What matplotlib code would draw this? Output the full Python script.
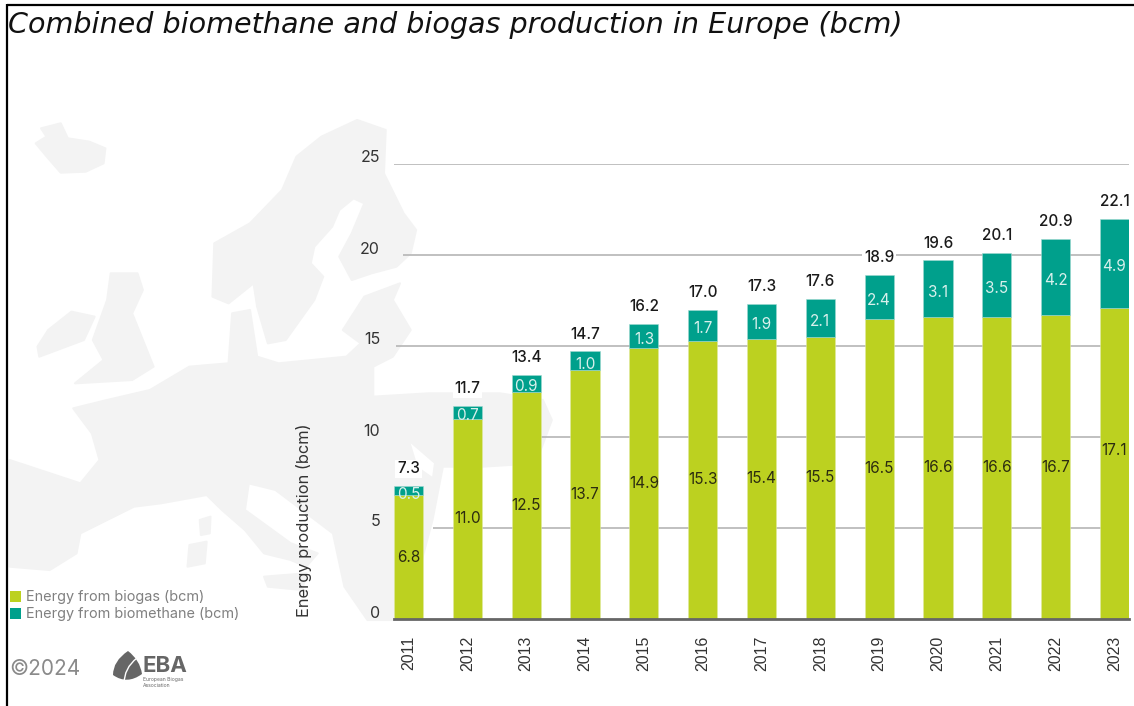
import matplotlib
matplotlib.use("Agg")
import matplotlib.pyplot as plt
from matplotlib.patches import Polygon, Rectangle, PathPatch
from matplotlib.path import Path
from matplotlib.transforms import blended_transform_factory, ScaledTranslation

years = list(range(2011, 2024))
biogas = [6.8, 11.0, 12.5, 13.7, 14.9, 15.3, 15.4, 15.5, 16.5, 16.6, 16.6, 16.7, 17.1]
biomethane = [0.5, 0.7, 0.9, 1.0, 1.3, 1.7, 1.9, 2.1, 2.4, 3.1, 3.5, 4.2, 4.9]
totals = [7.3, 11.7, 13.4, 14.7, 16.2, 17.0, 17.3, 17.6, 18.9, 19.6, 20.1, 20.9, 22.1]
y_ticks = [0, 5, 10, 15, 20, 25]
grid_levels = [5, 10, 15, 20, 25]
grid_start_px = [433, 541, 396, 403, 394]

GREEN = "#BCD120"
TEAL = "#00A08C"
MAP = "#F3F3F3"
W, H = 1134, 706
SANS = "Inter"

fig = plt.figure(figsize=(W / 100, H / 100), dpi=100, facecolor="white")
bg = fig.add_axes([0, 0, 1, 1])
bg.set_xlim(0, W)
bg.set_ylim(H, 0)
bg.axis("off")


def z2(pts):
    return [(x / 2.8, 100 + y / 3) for x, y in pts]


def z4(pts):
    return [(x / 2.613, 420 + y / 3) for x, y in pts]


iceland = z2([(100, 130), (130, 110), (115, 85), (170, 70), (190, 115), (250, 125), (295, 145),
              (290, 190), (240, 215), (170, 218), (135, 175)])
nordic = z2([(600, 430), (700, 370), (790, 270), (830, 170), (900, 110), (1000, 60), (1080, 90), (1075, 220),
             (1130, 340), (1165, 390), (1150, 460), (1110, 500), (1040, 520), (985, 540), (950, 470), (985, 400),
             (1020, 310), (990, 295), (950, 330), (930, 380), (880, 440), (870, 490), (905, 530), (880, 600),
             (800, 720), (750, 730), (720, 620), (710, 550), (640, 610), (595, 590)])
continent = z2([(205, 925), (300, 900), (420, 870), (530, 800), (640, 790), (650, 640), (700, 630), (720, 770),
                (780, 790), (970, 770), (1010, 730), (960, 690), (1020, 590), (1120, 550), (1100, 600),
                (1150, 690), (1100, 770), (1045, 800), (1045, 890), (1200, 880), (1400, 880), (1520, 900),
                (1545, 960), (1500, 1090), (1350, 1100), (1240, 1100)]) + z4([
                (1130, 300), (1100, 430), (1030, 600), (960, 600), (900, 500), (870, 340), (720, 210), (650, 190),
                (640, 270), (760, 370), (830, 400), (800, 440), (760, 420), (690, 400), (640, 330), (580, 270),
                (540, 225), (420, 250), (350, 260), (210, 340), (200, 400), (130, 450), (25, 440), (25, 120),
                (210, 190), (260, 120), (240, 40)])
britain = z2([(310, 520), (385, 520), (400, 570), (370, 640), (400, 720), (430, 800), (370, 840), (210, 850),
              (290, 780), (260, 720), (300, 600)])
ireland = z2([(135, 690), (200, 635), (265, 650), (235, 720), (110, 770), (105, 740)])
corsica = z4([(522, 300), (550, 290), (548, 340), (525, 345)])
sardinia = z4([(495, 375), (540, 365), (535, 430), (490, 440)])
sicily = z4([(690, 470), (800, 460), (790, 510), (700, 500)])
for shape in (iceland, nordic, continent, britain, ireland, corsica, sardinia, sicily):
    bg.add_patch(Polygon(shape, closed=True, fc=MAP, ec=MAP, lw=1.5, joinstyle="round", zorder=1))
bg.add_patch(Polygon(z2([(1150, 1030), (1215, 1090), (1210, 1130), (1170, 1100)]), closed=True, fc="white", ec="none", zorder=1.5))

# frame lines
bg.plot([7, 7], [4, H], color="black", lw=1.6, zorder=3, solid_capstyle="butt")
bg.plot([7, W], [5, 5], color="black", lw=1.6, zorder=3, solid_capstyle="butt")

# title
bg.text(8, 33, "Combined biomethane and biogas production in Europe (bcm)", family="DejaVu Sans", style="oblique",
        fontsize=20.65, color="#111111", ha="left", va="baseline", zorder=4)

# legend
bg.add_patch(Rectangle((10, 591), 11, 11, fc=GREEN, ec="none", zorder=4))
bg.add_patch(Rectangle((10, 608), 11, 11, fc=TEAL, ec="none", zorder=4))
bg.text(26, 597, "Energy from biogas (bcm)", family=SANS, fontsize=10.4, color="#808080", va="center", zorder=4)
bg.text(26, 614, "Energy from biomethane (bcm)", family=SANS, fontsize=10.4, color="#808080", va="center", zorder=4)

# footer
bg.text(9, 669, "©2024", family=SANS, fontsize=15, color="#8a8a8a", va="center", zorder=4)
leaf = Path([(128, 651), (140, 660), (142, 674), (127, 685), (113, 675), (113, 661), (128, 651)],
            [Path.MOVETO, Path.CURVE3, Path.CURVE3, Path.CURVE3, Path.CURVE3, Path.CURVE3, Path.CURVE3])
bg.add_patch(PathPatch(leaf, fc="#666666", ec="none", zorder=4))
vein = Path([(137, 658), (124, 668), (124, 684)], [Path.MOVETO, Path.CURVE3, Path.CURVE3])
bg.add_patch(PathPatch(vein, fc="none", ec="white", lw=1, zorder=5))
bg.text(143, 672, "EBA", family=SANS, weight="bold", fontsize=16, color="#666666", va="baseline", zorder=4)
bg.text(143, 681, "European Biogas", family=SANS, fontsize=3.6, color="#666666", va="baseline", zorder=4)
bg.text(143, 687, "Association", family=SANS, fontsize=3.6, color="#666666", va="baseline", zorder=4)

# chart axes
left, right, top, bottom = 394, 1129, 164, 619
ax = fig.add_axes([left / W, 1 - bottom / H, (right - left) / W, (bottom - top) / H])
ax.patch.set_alpha(0)
half = 14.5 / 58.83
ax.set_xlim(years[0] - half, years[-1] + half)
ax.set_ylim(0, 25)
for s in ("top", "right", "left"):
    ax.spines[s].set_visible(False)
ax.spines["bottom"].set_color("#666666")
ax.spines["bottom"].set_linewidth(2)
ax.set_xticks(years)
ax.set_xticklabels(years, rotation=90, family="Liberation Sans", fontsize=11.5, color="#333333")
ax.set_yticks(y_ticks)
ax.set_yticklabels(y_ticks, family=SANS, fontsize=11.5, color="#333333")
ax.tick_params(length=0)
ax.tick_params(axis="x", pad=12)
ax.tick_params(axis="y", pad=10)
lift = ScaledTranslation(0, 6 / 100, fig.dpi_scale_trans)
for lab in ax.get_yticklabels():
    lab.set_verticalalignment("center")
    lab.set_transform(lab.get_transform() + lift)

tr = blended_transform_factory(ax.transAxes, ax.transData)
for lvl, px in zip(grid_levels, grid_start_px):
    ax.plot([(px - left) / (right - left), 1], [lvl, lvl], transform=tr, color="#b5b5b5", lw=1.2, zorder=1, solid_capstyle="butt")

width = 29 / 58.83
ax.bar(years, biogas, width, color=GREEN, zorder=2, edgecolor="#dfe9a0", linewidth=0.4)
ax.bar(years, biomethane, width, bottom=biogas, color=TEAL, zorder=2, edgecolor="#a0d8d0", linewidth=0.4)

for yr, g, m, t in zip(years, biogas, biomethane, totals):
    nudge = 9.5 if yr == 2023 else 0
    ax.annotate(f"{g:.1f}", (yr, g / 2), xytext=(0, nudge), textcoords="offset points", ha="center", va="center",
                family=SANS, fontsize=11, color="#2c2c10", zorder=4)
    ax.annotate(f"{m:.1f}", (yr, g + m / 2), xytext=(0, -2.5), textcoords="offset points", ha="center", va="center",
                family=SANS, fontsize=11, color="#d8f0ec", zorder=4)
    ax.annotate(f"{t:.1f}", (yr, g + m), xytext=(0, 12.5), textcoords="offset points", ha="center", va="center",
                family=SANS, fontsize=11, weight="medium", color="#1a1a1a", zorder=3,
                bbox=dict(fc="white", ec="none", pad=1.2))

fig.text(304 / W, 1 - 520 / H, "Energy production (bcm)", rotation=90, family=SANS, fontsize=11.8, color="#333333",
         ha="center", va="center")

fig.savefig("out.png", dpi=100, facecolor="white")
